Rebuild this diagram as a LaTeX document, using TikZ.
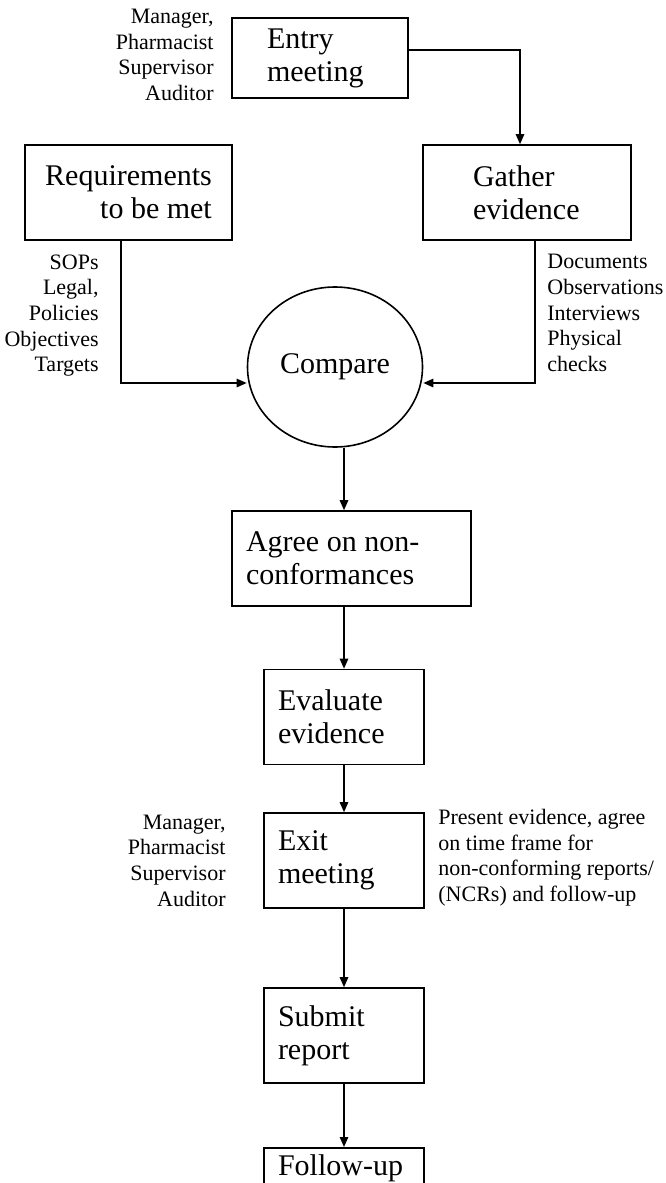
\documentclass[tikz,border=0pt]{standalone}
\usepackage{fontspec}
\setmainfont{Liberation Serif}
\usetikzlibrary{arrows.meta,positioning,shapes.geometric}

\begin{document}
\begin{tikzpicture}[
  x=0.5pt, y=-0.5pt,
  box/.style={draw, line width=0.8pt, font=\fontsize{15}{16.5}\selectfont, align=flush left, inner xsep=7pt, inner ysep=0pt, minimum height=47.5pt},
  bubble/.style={draw, ellipse, line width=0.8pt, font=\fontsize{15}{16.5}\selectfont, inner sep=0pt, minimum width=87.5pt, minimum height=80pt},
  arr/.style={-{Triangle[length=5pt,width=4.2pt]}, line width=0.75pt},
  note/.style={font=\fontsize{11}{12.8}\selectfont, inner sep=0pt}
]
  \useasboundingbox (0,0) rectangle (665,1183);
  \clip (0,0) rectangle (665,1183);

  \node[box, text width=53pt, inner xsep=17.5pt, minimum height=40pt] (entry) at (320,58) {Entry\\meeting};
  \node[box, align=flush right, minimum width=103.5pt] (req) at (128.5,192.5) {Requirements\\to be met};
  \node[box, text width=54pt, inner xsep=25pt] (gather) at (527,192.5) {Gather\\evidence};
  \node[bubble] (compare) at (335,367) {Compare};
  \node[box, text width=105.5pt] (agree) at (351.5,558.5) {Agree on non-\\conformances};
  \node[box, text width=66pt] (eval) at (344,717) {Evaluate\\evidence};
  \node[box, text width=66pt] (exit) at (344,860.5) {Exit\\meeting};
  \node[box, text width=66pt] (submit) at (344,1035.5) {Submit\\report};
  \node[box, text width=66pt, anchor=north, minimum height=0pt, text height=14pt, text depth=40pt] (follow) at (344,1147) {Follow-up};

  \node[note, align=flush right, anchor=east] (entrywho) at (214,55) {Manager,\\Pharmacist\\Supervisor\\Auditor};
  \node[note, align=flush right, anchor=east] (reqlist) at (99,315.5) {SOPs\\Legal,\\Policies\\Objectives\\Targets};
  \node[note, align=flush left, anchor=west] (gatherlist) at (547,313) {Documents\\Observations\\Interviews\\Physical\\checks};
  \node[note, align=flush right, anchor=east] (exitwho) at (226,860.5) {Manager,\\Pharmacist\\Supervisor\\Auditor};
  \node[note, align=flush left, anchor=west] (exitnote) at (438,857.5) {Present evidence, agree\\on time frame for\\non-conforming reports/\\(NCRs) and follow-up};

  \draw[arr] ([yshift=4pt]entry.east) -| ([xshift=-3.5pt]gather.north);
  \draw[arr] ([xshift=-3.75pt]req.south) |- ([yshift=-8pt]compare.west);
  \draw[arr] ([xshift=4pt]gather.south) |- ([yshift=-8pt]compare.east);
  \draw[arr] (compare.south -| eval.north) -- (agree.north -| eval.north);
  \draw[arr] (agree.south -| eval.north) -- (eval.north);
  \draw[arr] (eval.south) -- (exit.north);
  \draw[arr] (exit.south) -- (submit.north);
  \draw[arr] (submit.south) -- (follow.north);
\end{tikzpicture}
\end{document}
